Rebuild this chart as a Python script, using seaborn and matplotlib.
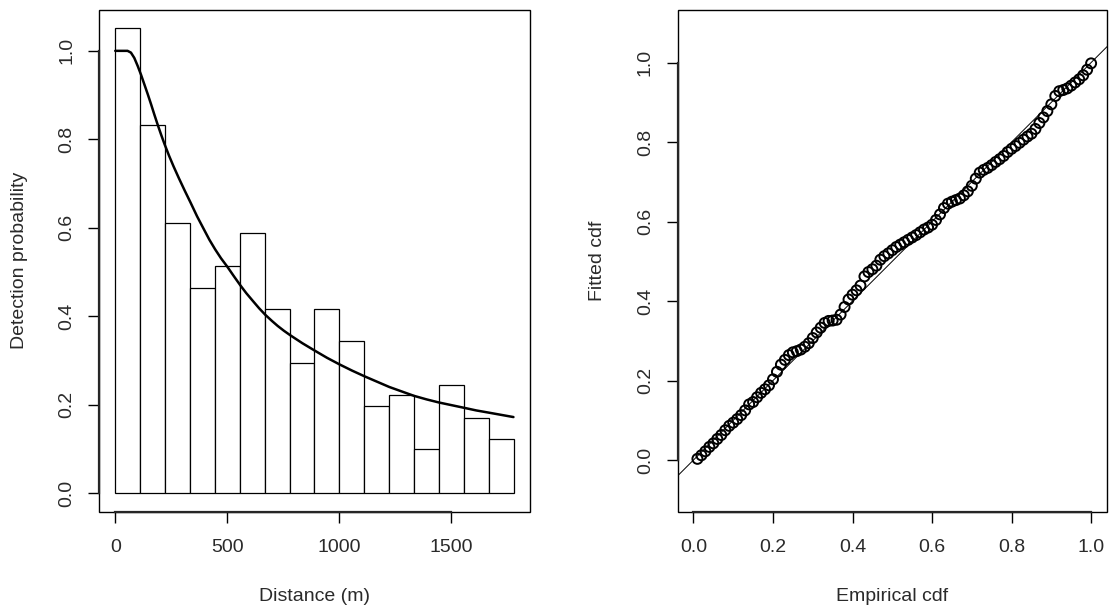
import numpy as np
import pandas as pd
import seaborn as sns
import matplotlib.pyplot as plt
from matplotlib.patches import Rectangle

# histogram of detection probability by distance bin
bin_edges = [0, 111.1, 222.2, 333.3, 444.4, 555.6, 666.7, 777.8, 888.9, 1000,
             1111.1, 1222.2, 1333.3, 1444.4, 1555.6, 1666.7, 1777.8]
bar_heights = [1.051, 0.833, 0.610, 0.463, 0.514, 0.588, 0.416, 0.295,
               0.416, 0.343, 0.197, 0.222, 0.099, 0.245, 0.171, 0.123]

# fitted detection function
curve_x = [0, 30, 55, 70, 85, 100, 115, 130, 145, 160, 175, 190, 205, 220, 240,
           260, 284, 310, 336, 365, 395, 420, 446, 472, 500, 530, 558, 585, 615,
           642, 670, 700, 725, 753, 781, 835, 891, 945, 1001, 1057, 1113, 1168,
           1223, 1278, 1333, 1389, 1444, 1500, 1556, 1611, 1667, 1722, 1777]
curve_y = [1.0, 1.0, 1.0, 0.996, 0.984, 0.966, 0.946, 0.924, 0.902, 0.879,
           0.855, 0.832, 0.810, 0.789, 0.763, 0.739, 0.712, 0.684, 0.657, 0.626,
           0.597, 0.573, 0.551, 0.531, 0.512, 0.490, 0.470, 0.452, 0.434, 0.418,
           0.403, 0.389, 0.378, 0.367, 0.357, 0.339, 0.322, 0.306, 0.291, 0.277,
           0.264, 0.252, 0.240, 0.230, 0.220, 0.212, 0.205, 0.199, 0.193, 0.187,
           0.182, 0.177, 0.172]

# empirical vs fitted cdf
ecdf = [0.01, 0.02, 0.03, 0.04, 0.05, 0.06, 0.07, 0.08, 0.09, 0.10,
        0.11, 0.12, 0.13, 0.14, 0.15, 0.16, 0.17, 0.18, 0.19, 0.20,
        0.21, 0.22, 0.23, 0.24, 0.25, 0.26, 0.27, 0.28, 0.29, 0.30,
        0.31, 0.32, 0.33, 0.34, 0.35, 0.36, 0.37, 0.38, 0.39, 0.40,
        0.41, 0.42, 0.43, 0.44, 0.45, 0.46, 0.47, 0.48, 0.49, 0.50,
        0.51, 0.52, 0.53, 0.54, 0.55, 0.56, 0.57, 0.58, 0.59, 0.60,
        0.61, 0.62, 0.63, 0.64, 0.65, 0.66, 0.67, 0.68, 0.69, 0.70,
        0.71, 0.72, 0.73, 0.74, 0.75, 0.76, 0.77, 0.78, 0.79, 0.80,
        0.81, 0.82, 0.83, 0.84, 0.85, 0.86, 0.87, 0.88, 0.89, 0.90,
        0.91, 0.92, 0.93, 0.94, 0.95, 0.96, 0.97, 0.98, 0.99, 1.00]
fitted = [0.003, 0.012, 0.022, 0.033, 0.042, 0.053, 0.063, 0.075, 0.086, 0.094,
          0.103, 0.113, 0.125, 0.140, 0.146, 0.158, 0.169, 0.178, 0.188, 0.203,
          0.222, 0.240, 0.252, 0.264, 0.271, 0.274, 0.278, 0.285, 0.294, 0.307,
          0.321, 0.333, 0.345, 0.350, 0.351, 0.353, 0.366, 0.385, 0.404, 0.416,
          0.427, 0.439, 0.462, 0.473, 0.480, 0.489, 0.504, 0.513, 0.520, 0.528,
          0.536, 0.542, 0.548, 0.554, 0.560, 0.566, 0.573, 0.580, 0.585, 0.592,
          0.604, 0.618, 0.634, 0.645, 0.650, 0.654, 0.658, 0.666, 0.676, 0.690,
          0.708, 0.723, 0.730, 0.735, 0.742, 0.750, 0.757, 0.765, 0.775, 0.783,
          0.790, 0.798, 0.806, 0.814, 0.821, 0.833, 0.848, 0.862, 0.878, 0.895,
          0.916, 0.928, 0.931, 0.935, 0.942, 0.950, 0.958, 0.968, 0.982, 0.998]

sns.set_style("ticks")
plt.rcParams['font.family'] = ['Liberation Sans', 'DejaVu Sans']
plt.rcParams['font.size'] = 14
text_col = "#2a2a2a"

fig = plt.figure(figsize=(11.1, 6.11), dpi=100)
ax1 = fig.add_axes([0.0895, 0.1625, 0.3876, 0.8216])
ax2 = fig.add_axes([0.6104, 0.1625, 0.3869, 0.8216])

# left panel: histogram + detection function
mids = [(a + b) / 2 for a, b in zip(bin_edges[:-1], bin_edges[1:])]
hist_df = pd.DataFrame({"distance": mids, "p": bar_heights})
sns.histplot(data=hist_df, x="distance", weights="p", bins=bin_edges,
             color="white", edgecolor="black", linewidth=0.9, alpha=1, ax=ax1)
sns.lineplot(x=curve_x, y=curve_y, color="black", linewidth=1.8, ax=ax1)
ax1.set_xlim(-71, 1849)
ax1.set_ylim(-0.042, 1.093)
ax1.set_xticks([0, 500, 1000, 1500])
ax1.set_yticks([0.0, 0.2, 0.4, 0.6, 0.8, 1.0])
ax1.set_yticklabels(["0.0", "0.2", "0.4", "0.6", "0.8", "1.0"])
ax1.set_xlabel("Distance (m)")
ax1.set_ylabel("Detection probability")
ax1.spines['bottom'].set_bounds(0, 1500)
ax1.spines['left'].set_bounds(0, 1.0)

# right panel: empirical vs fitted cdf
sns.scatterplot(x=ecdf, y=fitted, marker="o", s=52, facecolor="none",
                edgecolor="black", linewidth=1.4, ax=ax2)
ax2.axline((0, 0), slope=1, color="black", linewidth=0.7)
ax2.set_xlim(-0.04, 1.04)
ax2.set_ylim(-0.13, 1.133)
ax2.set_xticks([0.0, 0.2, 0.4, 0.6, 0.8, 1.0])
ax2.set_xticklabels(["0.0", "0.2", "0.4", "0.6", "0.8", "1.0"])
ax2.set_yticks([0.0, 0.2, 0.4, 0.6, 0.8, 1.0])
ax2.set_yticklabels(["0.0", "0.2", "0.4", "0.6", "0.8", "1.0"])
ax2.set_xlabel("Empirical cdf")
ax2.set_ylabel("Fitted cdf")
ax2.spines['bottom'].set_bounds(0, 1.0)
ax2.spines['left'].set_bounds(0, 1.0)

for ax in (ax1, ax2):
    ax.add_patch(Rectangle((0, 0), 1, 1, transform=ax.transAxes, fill=False,
                           edgecolor="black", linewidth=1.0, clip_on=False))
    for s in ax.spines.values():
        s.set_linewidth(1.6)
    ax.spines['top'].set_visible(False)
    ax.spines['right'].set_visible(False)
    ax.tick_params(axis="both", direction="out", length=8, width=1.0,
                   colors="black", labelcolor=text_col, labelsize=14)
    ax.tick_params(axis="x", pad=12)
    ax.tick_params(axis="y", pad=9, labelrotation=90)
    for lab in ax.get_yticklabels():
        lab.set_va("center")
    ax.xaxis.label.set_color(text_col)
    ax.yaxis.label.set_color(text_col)
    ax.xaxis.labelpad = 23

ax1.yaxis.labelpad = 22
ax2.yaxis.labelpad = 22

fig.savefig("out.png", dpi=100, facecolor="white")
